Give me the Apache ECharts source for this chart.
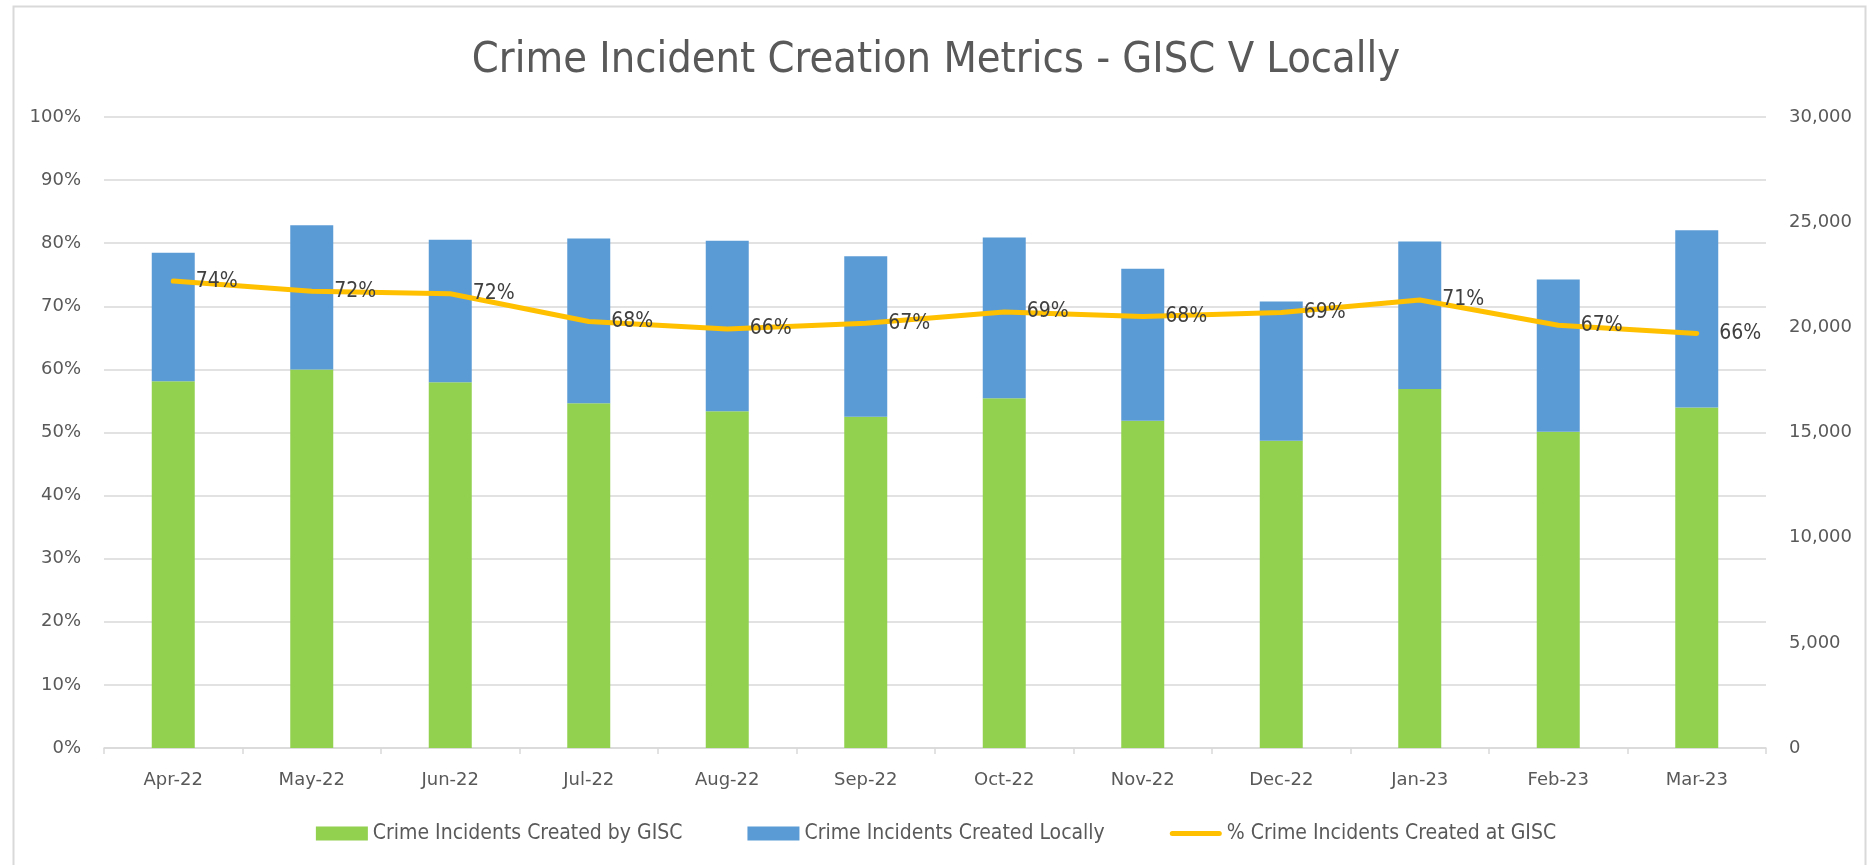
<!DOCTYPE html>
<html>
<head>
<meta charset="utf-8">
<script src="https://cdn.jsdelivr.net/npm/echarts@6/dist/echarts.min.js"></script>
<style>
  html, body { margin: 0; padding: 0; background: #fff; }
  #chart { width: 1872px; height: 865px; }
</style>
</head>
<body>
<div id="chart"></div>
<script>
// month labels
var months = ["Apr-22", "May-22", "Jun-22", "Jul-22", "Aug-22", "Sep-22",
              "Oct-22", "Nov-22", "Dec-22", "Jan-23", "Feb-23", "Mar-23"];
// incidents created by GISC (right axis)
var gisc = [17436, 18000, 17391, 16392, 16014, 15744, 16629, 15555, 14610, 17073, 15030, 16188];
// incidents created locally (stacked on top)
var local = [6105, 6855, 6768, 7830, 8097, 7638, 7641, 7227, 6624, 7005, 7245, 8430];
// % created at GISC (left axis)
var pct = [74.0, 72.4, 72.0, 67.6, 66.4, 67.3, 69.1, 68.4, 69.0, 71.0, 67.0, 65.7];

var narrow = "'Liberation Sans Narrow', 'DejaVu Sans Condensed', 'Open Sans', sans-serif";
var axisFont = "'DejaVu Sans', sans-serif";

var chart = echarts.init(document.getElementById("chart"));

chart.setOption({
  backgroundColor: "#fff",
  animation: false,
  // chart area frame
  graphic: [{
    type: "rect",
    left: 11, top: 4,
    shape: { width: 1852, height: 880 },
    style: { fill: "none", stroke: "#d9d9d9", lineWidth: 2 }
  }],
  title: {
    text: "Crime Incident Creation Metrics - GISC V Locally",
    left: "center",
    top: 34,
    textStyle: { fontFamily: narrow, fontSize: 43, fontWeight: "normal", color: "#595959" }
  },
  legend: {
    top: 818,
    left: "center",
    itemWidth: 52,
    itemHeight: 14,
    itemGap: 65,
    textStyle: { fontFamily: narrow, fontSize: 21, color: "#595959" },
    data: [
      { name: "Crime Incidents Created by GISC", icon: "rect" },
      { name: "Crime Incidents Created Locally", icon: "rect" },
      { name: "% Crime Incidents Created at GISC",
        icon: "path://M2.5,0 L49.5,0 A2.5,2.5 0 0 1 49.5,5 L2.5,5 A2.5,2.5 0 0 1 2.5,0 Z",
        itemStyle: { color: "#ffc000" } }
    ]
  },
  grid: { left: 104, right: 106, top: 117, bottom: 117 },
  xAxis: {
    type: "category",
    data: months,
    axisLine: { lineStyle: { color: "#d9d9d9", width: 1.5 } },
    axisTick: { show: true, length: 6, lineStyle: { color: "#d9d9d9", width: 1.5 } },
    axisLabel: { fontFamily: axisFont, fontSize: 18, color: "#595959", margin: 23 }
  },
  yAxis: [
    {
      type: "value",
      min: 0, max: 100, interval: 10,
      axisLine: { show: false },
      axisTick: { show: false },
      axisLabel: { fontFamily: axisFont, fontSize: 18, color: "#595959", margin: 23,
                   formatter: "{value}%" },
      splitLine: { lineStyle: { color: "#d9d9d9", width: 1.5 } }
    },
    {
      type: "value",
      min: 0, max: 30000, interval: 5000,
      axisLine: { show: false },
      axisTick: { show: false },
      splitLine: { show: false },
      axisLabel: { fontFamily: axisFont, fontSize: 18, color: "#595959", margin: 23,
                   formatter: function (v) { return v.toLocaleString("en-US"); } }
    }
  ],
  series: [
    {
      name: "Crime Incidents Created by GISC",
      type: "bar",
      stack: "total",
      yAxisIndex: 1,
      barWidth: 43,
      itemStyle: { color: "#92d050" },
      data: gisc
    },
    {
      name: "Crime Incidents Created Locally",
      type: "bar",
      stack: "total",
      yAxisIndex: 1,
      barWidth: 43,
      itemStyle: { color: "#5b9bd5" },
      data: local
    },
    {
      name: "% Crime Incidents Created at GISC",
      type: "line",
      yAxisIndex: 0,
      symbol: "circle",
      symbolSize: 1,
      showSymbol: true,
      lineStyle: { color: "#ffc000", width: 5, cap: "round", join: "round" },
      itemStyle: { color: "#ffc000" },
      label: {
        show: true,
        position: "right",
        distance: 22,
        offset: [0, 3],
        fontFamily: narrow,
        fontSize: 21,
        color: "#404040",
        formatter: function (p) { return Math.round(p.value) + "%"; }
      },
      labelLayout: { hideOverlap: false },
      data: pct
    }
  ]
});
</script>
</body>
</html>
